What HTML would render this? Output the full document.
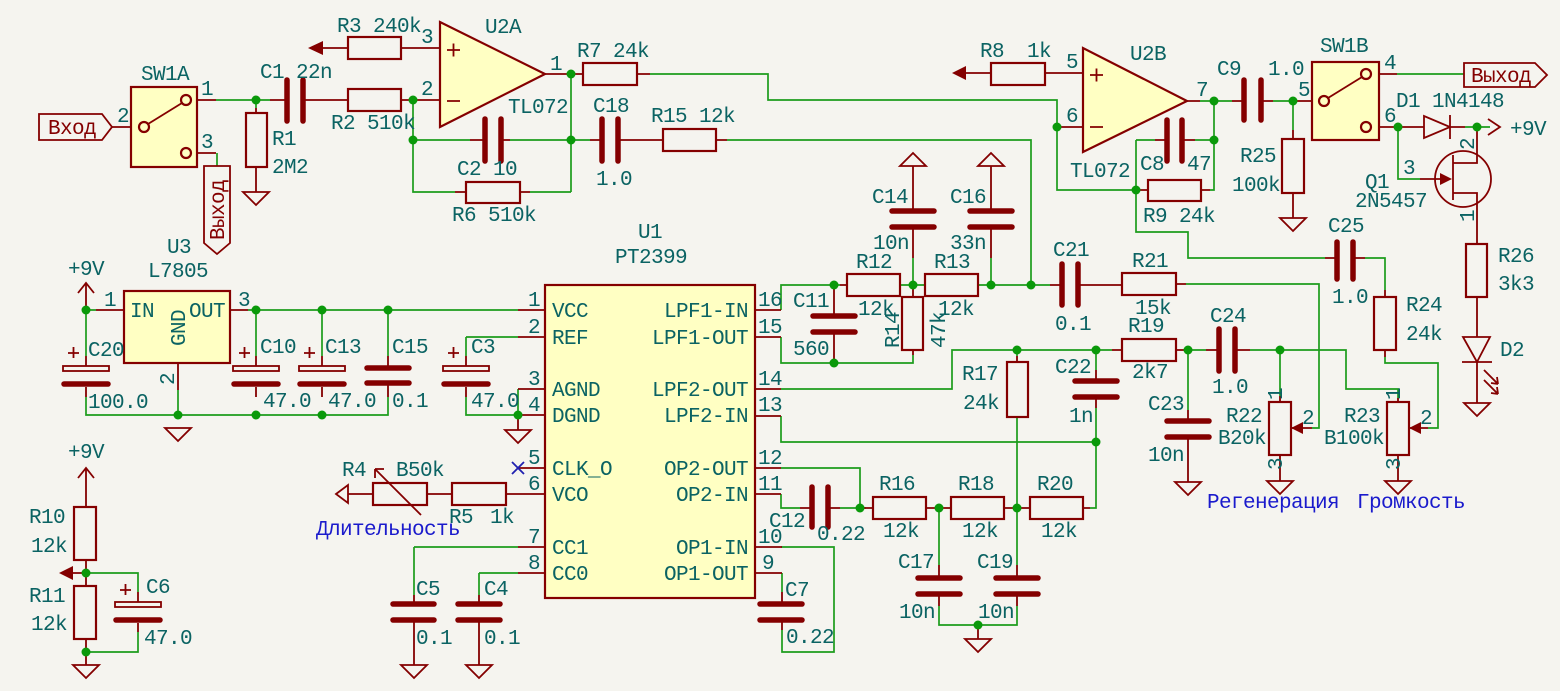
<!DOCTYPE html>
<html><head><meta charset="utf-8"><style>
html,body{margin:0;padding:0;background:#f5f4ef;}
svg{display:block;}
text{font-family:"Liberation Mono","DejaVu Sans Mono",monospace;font-size:21px;letter-spacing:-0.6px;fill:#0b6363;}
.p{fill:#a80000;}
.r{fill:#840000;}
.b{fill:#1a1acc;font-family:"Liberation Mono","DejaVu Sans Mono",monospace;}
.w{stroke:#1c9c1c;stroke-width:1.7;fill:none;}
.c{stroke:#840000;stroke-width:1.8;fill:none;}
.box{stroke:#840000;stroke-width:2.2;fill:#ffffc3;}
.pl{stroke:#840000;stroke-width:5.5;stroke-linecap:round;fill:none;}
.res{stroke:#840000;stroke-width:2.2;fill:none;}
.j{fill:#0a990a;}
</style></head><body>
<svg width="1560" height="691" viewBox="0 0 1560 691" xmlns="http://www.w3.org/2000/svg">
<rect width="1560" height="691" fill="#f5f4ef"/>

<path class="w" d="M216 100H270 M217 153V166 M413 100V192H455 M413 140H470 M510 140H571 M530 192H571 M571 74V192 M571 140H590
M650 74H768V100H1057V127 M727 140H1031V285 M1057 127V190H1136 M1136 140V232H1188V258H1325 M1136 140H1155 M1195 140H1214
M1214 101V190H1210 M1200 101H1232 M1273 101H1293 M1293 101V130 M1397 74H1464 M1398 127V179H1420 M1465 127H1490
M1365 258H1385V290 M1385 357V363H1438V428H1428 M1186 284H1319V428H1312 M781 310V285H840 M913 258V285 M991 258V285 M900 285H925 M978 285H1050
M781 337V363H913V355 M781 389H952V350H1112 M1096 350V370 M1017 350V356 M1188 350V410 M1280 350H1346V389H1398V398 M1280 350V396 M1250 350H1280
M1096 408V508H1090 M781 416V442H1096 M781 468H860V508 M781 494V508H800 M840 508H866 M939 508V565 M1017 417V565 M939 606V625H1017V606 M781 547H834V652H782V630 M782 573V592
M86 310H96 M86 310V356 M86 397V415H388V397 M178 390V415 M256 310V356 M322 310V356 M388 310V356 M248 310H518
M466 337H518 M466 337V356 M466 397V415H518V389 M414 547H518 M414 547V595 M479 573H518 M479 573V595
M86 573H138V592 M138 632V652H86 M256 100V108 M1188 350H1206"/>

<path class="c" d="M112 127H131 M191 100H216 M191 153H216 M270 100H287 M303 100H348 M401 100H440 M470 140H485 M501 140H510 M455 192H466 M520 192H530
M256 108V113 M256 167V192 M323 48H348 M401 48H440 M545 74H583 M637 74H650 M590 140H602 M618 140H663 M716 140H727
M966 73H991 M1045 73H1083 M1057 127H1083 M1187 101H1200 M1155 140H1167 M1182 140H1195 M1136 190H1148 M1201 190H1210
M1232 101H1244 M1261 101H1273 M1293 101H1312 M1293 130V139 M1293 193V218 M1379 74H1397 M1379 127H1398 M1398 127H1424 M1450 127H1465
M1420 179H1441 M1453 163H1477V127 M1453 193H1477V244 M1477 297V337 M1477 362V403
M1325 258H1337 M1353 258H1365 M1385 290V297 M1385 350V357 M1409 428H1428 M1291 428H1312 M1176 284H1186
M755 310H781 M755 337H781 M755 389H781 M755 416H781 M755 468H781 M755 494H781 M755 547H782 M755 573H782
M840 285H847 M913 166V211 M913 227V258 M991 166V211 M991 227V258 M834 285V316 M834 332V363 M913 285V297 M913 350V355
M1050 285H1062 M1078 285H1122 M1112 350H1122 M1176 350H1188 M1206 350H1219 M1235 350H1250 M1096 370V381 M1096 397V408 M1017 356V362 M1017 417V417
M1188 410V421 M1188 437V482 M1280 396V402 M1280 455V481 M1398 398V402 M1398 455V481
M800 508H812 M828 508H840 M860 508H873 M926 508H951 M1004 508H1030 M1083 508H1090 M939 565V578 M939 594V606 M1017 565V578 M1017 594V606 M978 625V639
M782 592V604 M782 620V630
M96 310H124 M230 310H248 M178 363V390 M86 356V366 M86 387V397 M256 356V366 M256 387V397 M322 356V366 M322 387V397 M388 356V368 M388 383V397
M466 356V366 M466 387V397 M518 310H545 M518 337H545 M518 389H545 M518 415H545 M518 468H545 M506 494H545 M427 494H452 M348 494H373 M518 547H545 M518 573H545
M414 595V604 M414 620V665 M479 595V604 M479 620V665 M518 415V430 M86 283V310 M86 468V507 M86 560V586 M86 639V665 M73 573H86 M138 592V602 M138 623V632"/>

<g class="res">
<rect x="246" y="113" width="21" height="54"/>
<rect x="348" y="89" width="53" height="22"/>
<rect x="348" y="37" width="53" height="22"/>
<rect x="466" y="182" width="54" height="21"/>
<rect x="583" y="63" width="54" height="22"/>
<rect x="663" y="129" width="53" height="22"/>
<rect x="991" y="63" width="54" height="22"/>
<rect x="1148" y="180" width="53" height="21"/>
<rect x="1282" y="139" width="22" height="54"/>
<rect x="1466" y="244" width="21" height="53"/>
<rect x="1374" y="297" width="22" height="53"/>
<rect x="847" y="274" width="53" height="22"/>
<rect x="925" y="274" width="53" height="22"/>
<rect x="902" y="297" width="21" height="53"/>
<rect x="1122" y="273" width="54" height="22"/>
<rect x="1122" y="339" width="54" height="22"/>
<rect x="1007" y="362" width="21" height="55"/>
<rect x="1269" y="402" width="22" height="53"/>
<rect x="1387" y="402" width="22" height="53"/>
<rect x="873" y="497" width="53" height="22"/>
<rect x="951" y="497" width="53" height="22"/>
<rect x="1030" y="497" width="53" height="22"/>
<rect x="373" y="483" width="54" height="22"/>
<rect x="452" y="483" width="54" height="22"/>
<rect x="74" y="507" width="22" height="53"/>
<rect x="74" y="586" width="22" height="53"/>
</g>
<polygon class="r" points="1291,428 1303,422 1303,434"/>
<polygon class="r" points="1409,428 1421,422 1421,434"/>
<path class="c" d="M421 515L375 469 M375 469V478 M375 469H384"/>

<path class="pl" d="M287 80V121 M303 80V121 M485 119V161 M501 119V161 M602 119V161 M618 119V161 M1167 120V161 M1182 120V161 M1244 80V120 M1261 80V120
M1337 242V279 M1353 242V279 M1062 264V305 M1078 264V305 M1219 329V371 M1235 329V371 M812 487V527 M828 487V527
M892 211H934 M892 227H934 M970 211H1012 M970 227H1012 M813 316H855 M813 332H855 M1075 381H1117 M1075 397H1117 M1167 421H1209 M1167 437H1209
M918 578H960 M918 594H960 M996 578H1038 M996 594H1038 M760 604H802 M760 620H802 M393 604H434 M393 620H434 M458 604H500 M458 620H500
M367 368H409 M367 383H409"/>
<g class="c" stroke-width="1.8">
<rect x="63" y="366" width="46" height="5"/>
<rect x="233" y="366" width="46" height="5"/>
<rect x="299" y="366" width="46" height="5"/>
<rect x="443" y="366" width="46" height="5"/>
<rect x="115" y="602" width="46" height="5"/>
</g>
<path class="pl" d="M64 384H108 M234 384H278 M300 384H344 M444 384H488 M116 620H160" stroke-linecap="butt" stroke-width="6"/>
<g class="c" stroke-width="1.8"><path d="M68 353h11 M73.5 347v11 M239 353h11 M244.5 347v11 M304 353h11 M309.5 347v11 M448 353h11 M453.5 347v11 M120 590h11 M125.5 584v11"/></g>

<g class="c">
<polygon points="243,192 269,192 256,205"/>
<polygon points="1280,218 1306,218 1293,231"/>
<polygon points="1464,403 1490,403 1477,416"/>
<polygon points="165,428 191,428 178,441"/>
<polygon points="505,430 531,430 518,443"/>
<polygon points="73,665 99,665 86,678"/>
<polygon points="401,665 427,665 414,678"/>
<polygon points="466,665 492,665 479,678"/>
<polygon points="965,639 991,639 978,652"/>
<polygon points="1175,482 1201,482 1188,495"/>
<polygon points="1267,481 1293,481 1280,494"/>
<polygon points="1385,481 1411,481 1398,494"/>
<polygon points="900,166 926,166 913,153"/>
<polygon points="978,166 1004,166 991,153"/>
<polygon points="336,494 348,485 348,503"/>
<path d="M78 293L86 283L94 293 M78 478L86 468L94 478 M1488 119L1500 127L1488 135"/>
</g>
<polygon class="r" points="308,48 323,41 323,55"/>
<polygon class="r" points="952,73 966,66 966,80"/>
<polygon class="r" points="59,573 73,566 73,580"/>

<rect class="box" x="131" y="87" width="66" height="80"/>
<circle class="box" cx="144" cy="127" r="5"/><circle class="box" cx="186" cy="100" r="5"/><circle class="box" cx="186" cy="153" r="5"/>
<path class="c" d="M148 124L182 103"/>
<polygon class="box" points="440,22 440,127 545,74"/>
<path class="c" d="M447 50h13 M453.5 43.5v13 M447 101h13"/>
<polygon class="box" points="1083,48 1083,152 1187,101"/>
<path class="c" d="M1090 75h13 M1096.5 68.5v13 M1090 127h13"/>
<rect class="box" x="1312" y="62" width="67" height="78"/>
<circle class="box" cx="1324" cy="101" r="5"/><circle class="box" cx="1366" cy="74" r="5"/><circle class="box" cx="1366" cy="127" r="5"/>
<path class="c" d="M1328 98L1362 77"/>
<rect class="box" x="124" y="291" width="106" height="72"/>
<rect class="box" x="545" y="285" width="210" height="313"/>

<polygon class="c" points="39,114 102,114 112,127 102,140 39,140"/>
<polygon class="c" points="204,166 230,166 230,243 217,254 204,243"/>
<polygon class="c" points="1464,63 1535,63 1547,75 1535,87 1464,87"/>

<polygon class="c" points="1424,116 1424,138 1450,127"/>
<path class="c" d="M1450 115V139" stroke-width="2.2"/>
<circle class="c" cx="1463" cy="179" r="28" stroke-width="2.2"/>
<path class="c" d="M1453 155V200" stroke-width="3"/>
<polygon class="r" points="1452,179 1440,173 1440,185"/>
<polygon class="c" points="1463,337 1490,337 1477,362"/>
<path class="c" d="M1462 362H1492 M1484 370L1498 384 M1484 380L1498 394 M1498 384l-7 -1 M1498 384l-1 -7 M1498 394l-7 -1 M1498 394l-1 -7"/>
<path d="M512 462L524 474 M524 462L512 474" stroke="#2020b0" stroke-width="1.8"/>

<g class="j">
<circle cx="256" cy="100" r="4.5"/><circle cx="413" cy="100" r="4.5"/><circle cx="413" cy="140" r="4.5"/><circle cx="571" cy="74" r="4.5"/><circle cx="571" cy="140" r="4.5"/>
<circle cx="1057" cy="127" r="4.5"/><circle cx="1136" cy="190" r="4.5"/><circle cx="1214" cy="101" r="4.5"/><circle cx="1214" cy="140" r="4.5"/><circle cx="1293" cy="101" r="4.5"/>
<circle cx="1398" cy="127" r="4.5"/><circle cx="1477" cy="127" r="4.5"/>
<circle cx="834" cy="285" r="4.5"/><circle cx="913" cy="285" r="4.5"/><circle cx="991" cy="285" r="4.5"/><circle cx="1031" cy="285" r="4.5"/><circle cx="834" cy="363" r="4.5"/>
<circle cx="1017" cy="350" r="4.5"/><circle cx="1096" cy="350" r="4.5"/><circle cx="1096" cy="442" r="4.5"/><circle cx="1188" cy="350" r="4.5"/><circle cx="1280" cy="350" r="4.5"/>
<circle cx="860" cy="508" r="4.5"/><circle cx="939" cy="508" r="4.5"/><circle cx="1017" cy="508" r="4.5"/><circle cx="978" cy="625" r="4.5"/>
<circle cx="86" cy="310" r="4.5"/><circle cx="256" cy="310" r="4.5"/><circle cx="322" cy="310" r="4.5"/><circle cx="388" cy="310" r="4.5"/>
<circle cx="178" cy="415" r="4.5"/><circle cx="256" cy="415" r="4.5"/><circle cx="322" cy="415" r="4.5"/><circle cx="518" cy="415" r="4.5"/>
<circle cx="86" cy="573" r="4.5"/><circle cx="86" cy="652" r="4.5"/>
</g>

<text class="r" x="48" y="134">Вход</text>
<text class="r" transform="translate(224,210) rotate(-90)" text-anchor="middle">Выход</text>
<text class="r" x="1471" y="82">Выход</text>

<g class="p">
<text x="117" y="122">2</text><text x="201" y="95">1</text><text x="201" y="148">3</text>
<text x="421" y="43">3</text><text x="421" y="95">2</text><text x="550" y="70">1</text>
<text x="1066" y="68">5</text><text x="1066" y="122">6</text><text x="1196" y="96">7</text>
<text x="1298" y="96">5</text><text x="1384" y="69">4</text><text x="1384" y="122">6</text>
<text x="1403" y="174">3</text>
<text transform="translate(1474,150) rotate(-90)" font-size="17">2</text>
<text transform="translate(1474,222) rotate(-90)" font-size="17">1</text>
<text transform="translate(1282,400) rotate(-90)" font-size="16">1</text>
<text transform="translate(1282,470) rotate(-90)" font-size="16">3</text>
<text transform="translate(1400,400) rotate(-90)" font-size="16">1</text>
<text transform="translate(1400,470) rotate(-90)" font-size="16">3</text>
<text x="1302" y="424">2</text><text x="1420" y="424">2</text>
<text x="104" y="306">1</text><text x="238" y="306">3</text>
<text transform="translate(174,385) rotate(-90)">2</text>
<text x="528" y="306">1</text><text x="528" y="333">2</text><text x="528" y="385">3</text><text x="528" y="411">4</text>
<text x="528" y="464">5</text><text x="528" y="490">6</text><text x="528" y="543">7</text><text x="528" y="569">8</text>
<text x="758" y="306">16</text><text x="758" y="333">15</text><text x="758" y="385">14</text><text x="758" y="411">13</text>
<text x="758" y="464">12</text><text x="758" y="490">11</text><text x="758" y="543">10</text><text x="762" y="569">9</text>
</g>

<text x="552" y="317">VCC</text><text x="552" y="344">REF</text><text x="552" y="396">AGND</text><text x="552" y="422">DGND</text>
<text x="552" y="475">CLK_O</text><text x="552" y="501">VCO</text><text x="552" y="554">CC1</text><text x="552" y="580">CC0</text>
<text x="748" y="317" text-anchor="end">LPF1-IN</text><text x="748" y="344" text-anchor="end">LPF1-OUT</text>
<text x="748" y="396" text-anchor="end">LPF2-OUT</text><text x="748" y="422" text-anchor="end">LPF2-IN</text>
<text x="748" y="475" text-anchor="end">OP2-OUT</text><text x="748" y="501" text-anchor="end">OP2-IN</text>
<text x="748" y="554" text-anchor="end">OP1-IN</text><text x="748" y="580" text-anchor="end">OP1-OUT</text>
<text x="130" y="317">IN</text><text x="189" y="317">OUT</text>
<text transform="translate(185,328) rotate(-90)" text-anchor="middle">GND</text>

<text x="141" y="80">SW1A</text>
<text x="272" y="145">R1</text><text x="272" y="173">2M2</text>
<text x="260" y="78">C1 22n</text>
<text x="331" y="129">R2 510k</text>
<text x="337" y="32">R3 240k</text>
<text x="485" y="33">U2A</text>
<text x="508" y="113">TL072</text>
<text x="457" y="175">C2  10</text>
<text x="452" y="221">R6 510k</text>
<text x="577" y="57">R7 24k</text>
<text x="593" y="112">C18</text><text x="596" y="185">1.0</text>
<text x="651" y="122">R15 12k</text>
<text x="167" y="253">U3</text>
<text x="638" y="238">U1</text><text x="615" y="263">PT2399</text>

<text x="980" y="57">R8</text><text x="1027" y="57">1k</text>
<text x="1130" y="60">U2B</text><text x="1070" y="177">TL072</text>
<text x="1140" y="170">C8</text><text x="1187" y="170">47</text>
<text x="1143" y="222">R9 24k</text>
<text x="1217" y="75">C9</text><text x="1268" y="75">1.0</text>
<text x="1320" y="52">SW1B</text>
<text x="1240" y="162">R25</text><text x="1232" y="191">100k</text>
<text x="1396" y="107">D1</text><text x="1432" y="107">1N4148</text>
<text x="1510" y="135">+9V</text>
<text x="1365" y="188">Q1</text><text x="1355" y="207">2N5457</text>
<text x="1498" y="262">R26</text><text x="1498" y="290">3k3</text>
<text x="1500" y="356">D2</text>
<text x="1328" y="232">C25</text><text x="1332" y="303">1.0</text>
<text x="1406" y="311">R24</text><text x="1406" y="340">24k</text>

<text x="872" y="203">C14</text><text x="873" y="249">10n</text>
<text x="950" y="203">C16</text><text x="950" y="249">33n</text>
<text x="856" y="268">R12</text><text x="858" y="315">12k</text>
<text x="934" y="268">R13</text><text x="938" y="315">12k</text>
<text x="793" y="307">C11</text><text x="793" y="355">560</text>
<text transform="translate(899,330) rotate(-90)" text-anchor="middle">R14</text>
<text transform="translate(945,330) rotate(-90)" text-anchor="middle">47k</text>
<text x="1053" y="256">C21</text><text x="1055" y="330">0.1</text>
<text x="1132" y="267">R21</text><text x="1135" y="314">15k</text>
<text x="1128" y="332">R19</text><text x="1132" y="378">2k7</text>
<text x="962" y="380">R17</text><text x="963" y="409">24k</text>
<text x="1055" y="373">C22</text><text x="1069" y="422">1n</text>
<text x="1210" y="322">C24</text><text x="1212" y="393">1.0</text>
<text x="1148" y="410">C23</text><text x="1148" y="461">10n</text>
<text x="1226" y="422">R22</text><text x="1218" y="444">B20k</text>
<text x="1344" y="422">R23</text><text x="1324" y="444">B100k</text>
<text class="b" x="1207" y="508">Регенерация</text>
<text class="b" x="1357" y="508">Громкость</text>

<text x="769" y="527">C12</text><text x="817" y="540">0.22</text>
<text x="879" y="490">R16</text><text x="883" y="537">12k</text>
<text x="958" y="490">R18</text><text x="962" y="537">12k</text>
<text x="1037" y="490">R20</text><text x="1041" y="537">12k</text>
<text x="898" y="568">C17</text><text x="899" y="618">10n</text>
<text x="977" y="568">C19</text><text x="978" y="618">10n</text>
<text x="785" y="596">C7</text><text x="786" y="643">0.22</text>

<text x="68" y="275">+9V</text><text x="148" y="277">L7805</text>
<text x="88" y="356">C20</text><text x="88" y="408">100.0</text>
<text x="260" y="353">C10</text><text x="263" y="407">47.0</text>
<text x="325" y="353">C13</text><text x="328" y="407">47.0</text>
<text x="392" y="353">C15</text><text x="392" y="407">0.1</text>
<text x="471" y="353">C3</text><text x="471" y="407">47.0</text>

<text x="68" y="458">+9V</text>
<text x="29" y="523">R10</text><text x="31" y="552">12k</text>
<text x="29" y="602">R11</text><text x="31" y="630">12k</text>
<text x="146" y="593">C6</text><text x="144" y="644">47.0</text>
<text x="342" y="476">R4</text><text x="396" y="476">B50k</text>
<text x="449" y="523">R5</text><text x="490" y="523">1k</text>
<text class="b" x="316" y="535">Длительность</text>
<text x="416" y="595">C5</text><text x="416" y="644">0.1</text>
<text x="484" y="595">C4</text><text x="484" y="644">0.1</text>
</svg>
</body></html>
